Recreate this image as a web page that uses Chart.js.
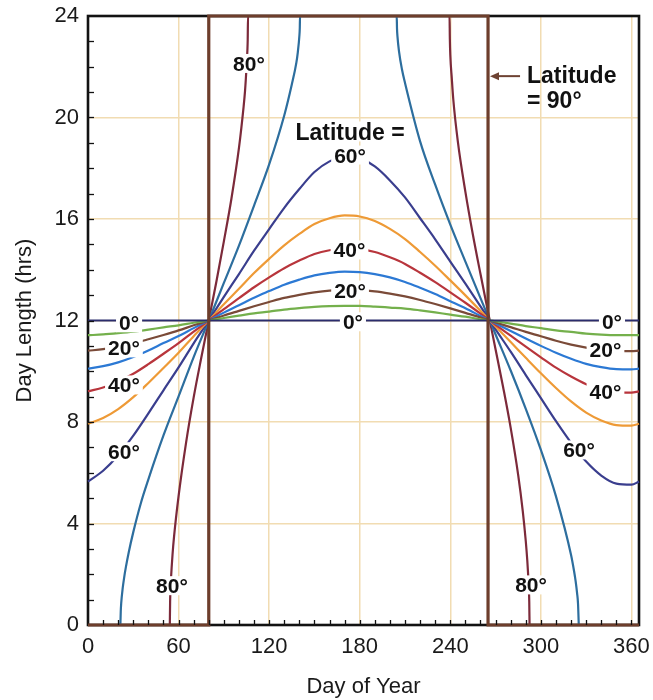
<!DOCTYPE html>
<html>
<head>
<meta charset="utf-8">
<script src="https://cdn.jsdelivr.net/npm/chart.js@4/dist/chart.umd.min.js"></script>
<style>
  html, body { margin: 0; padding: 0; background: #ffffff; }
  #wrap { width: 653px; height: 700px; }
</style>
</head>
<body>
<div id="wrap"><canvas id="c" width="653" height="700"></canvas></div>
<script>
// Day length (hours) through the year for latitudes 0° to 90° (northern hemisphere)
const dayOfYear = [0,10,20,30,40,50,60,70,80,90,100,110,120,130,140,150,160,170,180,
                   190,200,210,220,230,240,250,260,270,280,290,300,310,320,330,340,350,360,365];

const days0 = [0, 365];
const hours0 = [12, 12];

const hours10 = [11.42,11.45,11.50,11.56,11.64,11.73,11.81,11.91,12.00,12.10,12.19,12.28,12.35,12.43,12.49,12.54,12.57,12.58,12.58,
                 12.55,12.51,12.47,12.40,12.32,12.23,12.15,12.05,11.97,11.88,11.78,11.70,11.61,11.55,11.48,11.44,11.42,11.42,11.42];
const hours20 = [10.81,10.87,10.97,11.10,11.26,11.43,11.61,11.81,12.00,12.20,12.38,12.56,12.73,12.89,13.01,13.11,13.18,13.21,13.20,
                 13.15,13.06,12.95,12.81,12.65,12.48,12.30,12.12,11.92,11.74,11.55,11.38,11.20,11.05,10.93,10.84,10.79,10.79,10.81];
const hours30 = [10.10,10.20,10.35,10.56,10.82,11.11,11.39,11.70,12.00,12.31,12.60,12.90,13.16,13.41,13.61,13.78,13.88,13.93,13.91,
                 13.83,13.70,13.52,13.29,13.04,12.76,12.48,12.18,11.88,11.59,11.29,11.00,10.73,10.49,10.29,10.16,10.08,10.07,10.10];
const hours40 = [9.21,9.36,9.59,9.90,10.28,10.69,11.11,11.56,12.00,12.45,12.88,13.31,13.70,14.06,14.36,14.62,14.77,14.84,14.81,
                 14.70,14.49,14.23,13.88,13.51,13.11,12.70,12.27,11.83,11.40,10.97,10.55,10.14,9.79,9.49,9.29,9.18,9.16,9.21];
const hours50 = [7.93,8.16,8.51,8.98,9.54,10.13,10.73,11.38,12.00,12.64,13.25,13.87,14.43,14.96,15.41,15.80,16.03,16.14,16.10,
                 15.92,15.61,15.21,14.70,14.16,13.58,12.99,12.38,11.76,11.15,10.53,9.92,9.34,8.81,8.37,8.06,7.88,7.86,7.93];
const hours60 = [5.65,6.08,6.69,7.46,8.34,9.25,10.15,11.10,12.00,12.93,13.83,14.75,15.60,16.44,17.18,17.85,18.27,18.47,18.39,
                 18.07,17.52,16.85,16.03,15.20,14.32,13.45,12.56,11.65,10.77,9.85,8.94,8.03,7.18,6.44,5.89,5.57,5.53,5.65];

// 70° and 80°: polar night / polar day are reached, so the steep ends are sampled more finely
const days70 = [21.45,21.7,22,23,24,25,27,30,35,40,50,60,70,80,90,100,110,120,130,135,138,139,140,140.3,140.45,
                204.5,204.7,205,206,208,210,220,230,240,250,260,270,280,290,300,310,320,322,323,324,324.6,325.1];
const hours70 = [0,0.54,0.86,1.46,1.89,2.25,2.87,3.66,4.80,5.74,7.47,9.01,10.56,12.00,13.48,14.95,16.53,18.15,20.08,21.30,22.15,22.58,23.20,23.54,24,
                 24,23.50,23.20,22.62,21.89,21.36,19.06,17.35,15.78,14.32,12.88,11.45,10.03,8.52,6.90,5.07,2.76,2.12,1.74,1.25,0.85,0];

const days80 = [54.2,54.4,54.7,55,56,57,60,65,70,75,80,85,90,95,100,103,104,105,105.6,105.8,106,
                239.5,239.7,240,241,242,245,250,255,260,265,270,275,280,285,288,290,291,291.5,292,292.3,292.5];
const hours80 = [0,0.93,1.46,1.85,2.78,3.48,5.08,7.20,8.97,10.52,12.00,13.52,15.12,16.80,18.80,20.38,21.03,21.96,22.67,23.06,24,
                 24,23.10,22.46,21.53,20.70,19.05,17.07,15.37,13.83,12.34,10.86,9.37,7.77,5.90,4.49,3.30,2.54,2.05,1.46,0.93,0];

const days90 = [0, 80, 80, 265, 265, 365];
const hours90 = [0, 0, 24, 24, 0, 0];

const xTicks = [0, 60, 120, 180, 240, 300, 360];
const yTicks = [0, 4, 8, 12, 16, 20, 24];

// curve labels: text, day, hours (placed in data space)
const curveLabels = [
  ['80°', 106.6, 22.13], ['60°', 173.6, 18.52], ['40°', 173.2, 14.78], ['20°', 173.6, 13.20], ['0°', 175.5, 11.95],
  ['0°', 27.2, 11.91], ['20°', 23.8, 10.92], ['40°', 23.8, 9.46], ['60°', 23.8, 6.83], ['80°', 55.6, 1.55],
  ['0°', 347.1, 11.95], ['20°', 342.8, 10.84], ['40°', 342.8, 9.19], ['60°', 325.3, 6.90], ['80°', 293.5, 1.58]
];

function pts(xs, ys) { return xs.map((x, i) => ({ x: x, y: ys[i] })); }

const series = [
  { label: '90°', xs: days90, ys: hours90, color: '#6d3e2c', width: 3.2, straight: true },
  { label: '0°',  xs: days0,  ys: hours0,  color: '#2a2c6c', width: 2.2 },
  { label: '10°', xs: dayOfYear, ys: hours10, color: '#74b04c', width: 2.2 },
  { label: '20°', xs: dayOfYear, ys: hours20, color: '#7a4a38', width: 2.2 },
  { label: '30°', xs: dayOfYear, ys: hours30, color: '#2c79d4', width: 2.2 },
  { label: '40°', xs: dayOfYear, ys: hours40, color: '#b8353c', width: 2.2 },
  { label: '50°', xs: dayOfYear, ys: hours50, color: '#ee9a36', width: 2.2 },
  { label: '60°', xs: dayOfYear, ys: hours60, color: '#3a3e8e', width: 2.2 },
  { label: '70°', xs: days70, ys: hours70, color: '#2d6e9e', width: 2.2 },
  { label: '80°', xs: days80, ys: hours80, color: '#7c2a3a', width: 2.2 }
];

const datasets = series.map((s, i) => ({
  label: s.label,
  data: pts(s.xs, s.ys),
  borderColor: s.color,
  borderWidth: s.width,
  pointRadius: 0,
  fill: false,
  order: i,
  clip: s.straight ? 4 : 1,
  tension: 0,
  cubicInterpolationMode: s.straight ? 'default' : 'monotone'
}));

const FONT = "'Liberation Sans', Arial, Helvetica, sans-serif";

const framePlugin = {
  id: 'frame',
  beforeDatasetsDraw(chart) {
    const { ctx, chartArea: a } = chart;
    ctx.save();
    ctx.strokeStyle = '#121212';
    ctx.lineWidth = 2.6;
    ctx.strokeRect(a.left, a.top, a.right - a.left, a.bottom - a.top);
    ctx.restore();
  },
  afterDatasetsDraw(chart) {
    const { ctx, chartArea: a } = chart;
    const xs = chart.scales.x, ys = chart.scales.y;
    ctx.save();
    // inward minor ticks
    ctx.strokeStyle = '#121212';
    ctx.lineWidth = 1.3;
    for (let h = 1; h < 24; h++) {
      const y = Math.round(ys.getPixelForValue(h)) + 0.5;
      ctx.beginPath(); ctx.moveTo(a.left, y); ctx.lineTo(a.left + 6, y); ctx.stroke();
    }
    for (let d = 10; d <= 360; d += 10) {
      const x = Math.round(xs.getPixelForValue(d)) + 0.5;
      ctx.beginPath(); ctx.moveTo(x, a.bottom); ctx.lineTo(x, a.bottom - 5); ctx.stroke();
    }

    // curve labels on white patches
    ctx.font = 'bold 21px ' + FONT;
    ctx.textAlign = 'center';
    ctx.textBaseline = 'alphabetic';
    curveLabels.forEach(([t, d, h]) => {
      const x = xs.getPixelForValue(d), y = ys.getPixelForValue(h);
      const w = ctx.measureText(t).width;
      ctx.fillStyle = '#ffffff';
      ctx.fillRect(x - w / 2 - 3, y - 9.5, w + 6, 19);
      ctx.fillStyle = '#111111';
      ctx.fillText(t, x, y + 7.5);
    });

    // "Latitude =" heading above the 60° label
    ctx.font = 'bold 23px ' + FONT;
    const lx = xs.getPixelForValue(173.6), ly = ys.getPixelForValue(19.45);
    const lw = ctx.measureText('Latitude =').width;
    ctx.fillStyle = '#ffffff';
    ctx.fillRect(lx - lw / 2 - 3, ly - 10, lw + 6, 20);
    ctx.fillStyle = '#111111';
    ctx.fillText('Latitude =', lx, ly + 8.3);

    // 90° callout with arrow
    ctx.textAlign = 'left';
    const rx = xs.getPixelForValue(290.8);
    ctx.fillText('Latitude', rx, ys.getPixelForValue(21.69) + 8.3);
    ctx.fillText('= 90°', rx, ys.getPixelForValue(20.71) + 8.3);
    const ay = ys.getPixelForValue(21.63);
    const ax0 = xs.getPixelForValue(286.2), ax1 = xs.getPixelForValue(266.3);
    ctx.strokeStyle = '#6d4232';
    ctx.fillStyle = '#6d4232';
    ctx.lineWidth = 2;
    ctx.beginPath(); ctx.moveTo(ax0, ay); ctx.lineTo(ax1 + 7, ay); ctx.stroke();
    ctx.beginPath(); ctx.moveTo(ax1, ay); ctx.lineTo(ax1 + 9, ay - 4); ctx.lineTo(ax1 + 9, ay + 4); ctx.closePath(); ctx.fill();

    // axis titles
    ctx.fillStyle = '#1a1a1a';
    ctx.font = '22px ' + FONT;
    ctx.textAlign = 'center';
    ctx.fillText('Day of Year', (a.left + a.right) / 2, 693);
    ctx.translate(31, (a.top + a.bottom) / 2);
    ctx.rotate(-Math.PI / 2);
    ctx.fillText('Day Length (hrs)', 0, 0);
    ctx.restore();
  }
};

new Chart(document.getElementById('c'), {
  type: 'line',
  data: { datasets: datasets },
  options: {
    responsive: false,
    animation: false,
    devicePixelRatio: 1,
    layout: { padding: { top: 16, right: 14, left: 0, bottom: 0 } },
    plugins: { legend: { display: false }, tooltip: { enabled: false } },
    scales: {
      x: {
        type: 'linear', min: 0, max: 365,
        afterFit: s => { s.height = 75; s.paddingLeft = 0; s.paddingRight = 0; },
        afterBuildTicks: s => { s.ticks = xTicks.map(v => ({ value: v })); },
        ticks: { font: { size: 22, family: FONT }, color: '#1a1a1a', padding: 9, maxRotation: 0 },
        grid: { color: c => (c.tick && c.tick.value > 0) ? '#f1dcb2' : 'rgba(0,0,0,0)', lineWidth: 1.5, drawTicks: false },
        border: { display: false }
      },
      y: {
        type: 'linear', min: 0, max: 24,
        afterFit: s => { s.width = 88; s.paddingTop = 0; s.paddingBottom = 0; },
        afterBuildTicks: s => { s.ticks = yTicks.map(v => ({ value: v })); },
        ticks: { font: { size: 22, family: FONT }, color: '#1a1a1a', padding: 9 },
        grid: { color: c => (c.tick && c.tick.value > 0 && c.tick.value < 24) ? '#f1dcb2' : 'rgba(0,0,0,0)', lineWidth: 1.5, drawTicks: false },
        border: { display: false }
      }
    }
  },
  plugins: [framePlugin]
});
</script>
</body>
</html>
